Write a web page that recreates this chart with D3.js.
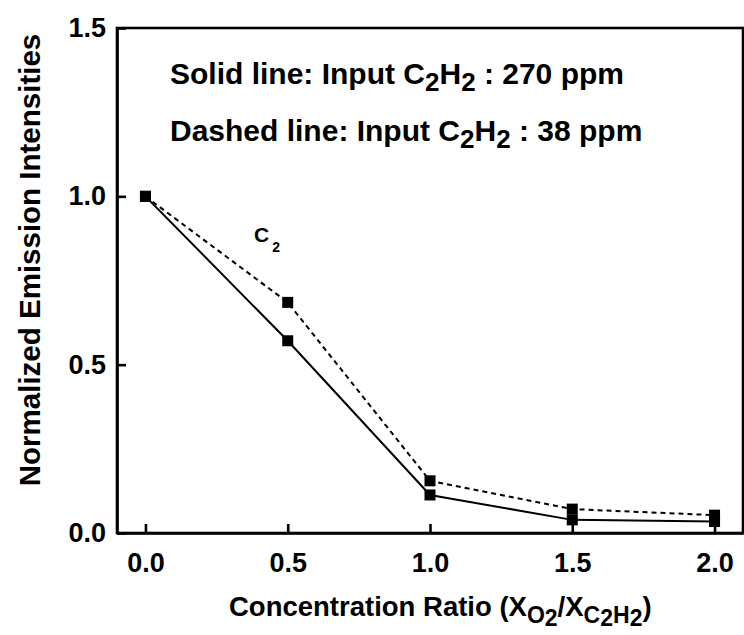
<!DOCTYPE html>
<html>
<head>
<meta charset="utf-8">
<script src="https://cdn.jsdelivr.net/npm/d3@7"></script>
<style>
  html, body { margin: 0; padding: 0; background: #fff; }
  svg { display: block; font-family: "Liberation Sans", Arial, sans-serif; }
</style>
</head>
<body>
<svg id="chart" width="744" height="635"></svg>
<script>
const ratios = [0.0, 0.5, 1.0, 1.5, 2.0];
const solid270 = [1.0, 0.571, 0.113, 0.039, 0.034];
const dashed38 = [1.0, 0.685, 0.155, 0.071, 0.053];
const xTicks = [0.0, 0.5, 1.0, 1.5, 2.0];
const yTicks = [0.0, 0.5, 1.0, 1.5];

(function () {
const svg = d3.select("#chart");
const pL = 117, pR = 743, pT = 28, pB = 533;
const FONT = "Liberation Sans, Arial, sans-serif";

const x = d3.scaleLinear().domain([-0.1, 2.1]).range([pL, pR]);
const y = d3.scaleLinear().domain([0, 1.5]).range([pB, pT]);

// frame
svg.append("rect")
  .attr("x", pL).attr("y", pT)
  .attr("width", pR - pL).attr("height", pB - pT)
  .attr("fill", "none").attr("stroke", "#000").attr("stroke-width", 2.6);

// axes
const xAxis = d3.axisBottom(x).tickValues(xTicks).tickFormat(d3.format(".1f"))
  .tickSizeInner(-9).tickSizeOuter(0).tickPadding(20);
const gx = svg.append("g").attr("transform", `translate(0,${pB})`).call(xAxis);
gx.select(".domain").attr("stroke-width", 2.6);
gx.selectAll(".tick line").attr("stroke-width", 2.6);
gx.selectAll(".tick text").attr("font-size", 27).attr("font-weight", "bold")
  .attr("font-family", FONT).attr("fill", "#000");

const yAxis = d3.axisLeft(y).tickValues(yTicks).tickFormat(d3.format(".1f"))
  .tickSizeInner(-9).tickSizeOuter(0).tickPadding(11);
const gy = svg.append("g").attr("transform", `translate(${pL},0)`).call(yAxis);
gy.select(".domain").attr("stroke-width", 2.6);
gy.selectAll(".tick line").attr("stroke-width", 2.6);
gy.selectAll(".tick text").attr("font-size", 27).attr("font-weight", "bold")
  .attr("font-family", FONT).attr("fill", "#000");

// lines
const line = d3.line().x((d, i) => x(ratios[i])).y(d => y(d));
svg.append("path").datum(solid270).attr("d", line)
  .attr("fill", "none").attr("stroke", "#000").attr("stroke-width", 2);
svg.append("path").datum(dashed38).attr("d", line)
  .attr("fill", "none").attr("stroke", "#000").attr("stroke-width", 2)
  .attr("stroke-dasharray", "5,4");

// markers
const ms = 11;
[solid270, dashed38].forEach(series => {
  svg.append("g").selectAll("rect").data(series).join("rect")
    .attr("x", (d, i) => x(ratios[i]) - ms / 2)
    .attr("y", d => y(d) - ms / 2)
    .attr("width", ms).attr("height", ms).attr("fill", "#000");
});

// annotation text
function sub(t, str, dy, size) {
  t.append("tspan").attr("dy", dy).attr("font-size", size).text(str);
}
const t1 = svg.append("text").attr("x", 170).attr("y", 84)
  .attr("font-size", 30).attr("font-weight", "bold");
t1.append("tspan").text("Solid line: Input C");
sub(t1, "2", 7, 26); t1.append("tspan").attr("dy", -7).text("H");
sub(t1, "2", 7, 26); t1.append("tspan").attr("dy", -7).text(" : 270 ppm");

const t2 = svg.append("text").attr("x", 170).attr("y", 141)
  .attr("font-size", 30).attr("font-weight", "bold");
t2.append("tspan").text("Dashed line: Input C");
sub(t2, "2", 7, 26); t2.append("tspan").attr("dy", -7).text("H");
sub(t2, "2", 7, 26); t2.append("tspan").attr("dy", -7).text(" : 38 ppm");

// C2 label
const c2 = svg.append("text").attr("x", 254).attr("y", 242)
  .attr("font-size", 21).attr("font-weight", "bold");
c2.append("tspan").text("C");
c2.append("tspan").attr("dy", 10).attr("dx", 3).attr("font-size", 14).text("2");

// y axis title
svg.append("text")
  .attr("transform", `translate(40,260) rotate(-90)`)
  .attr("text-anchor", "middle").attr("font-size", 29.5).attr("font-weight", "bold")
  .text("Normalized Emission Intensities");

// x axis title
const xt = svg.append("text").attr("x", 229).attr("y", 616)
  .attr("font-size", 27.5).attr("font-weight", "bold");
xt.append("tspan").text("Concentration Ratio (X");
xt.append("tspan").attr("dy", 7).attr("font-size", 23).text("O");
xt.append("tspan").attr("dy", 3).attr("font-size", 23).text("2");
xt.append("tspan").attr("dy", -10).text("/X");
xt.append("tspan").attr("dy", 7).attr("font-size", 23).text("C");
xt.append("tspan").attr("dy", 3).attr("font-size", 23).text("2");
xt.append("tspan").attr("dy", -3).attr("font-size", 23).text("H");
xt.append("tspan").attr("dy", 3).attr("font-size", 23).text("2");
xt.append("tspan").attr("dy", -10).text(")");
})();
</script>
</body>
</html>
